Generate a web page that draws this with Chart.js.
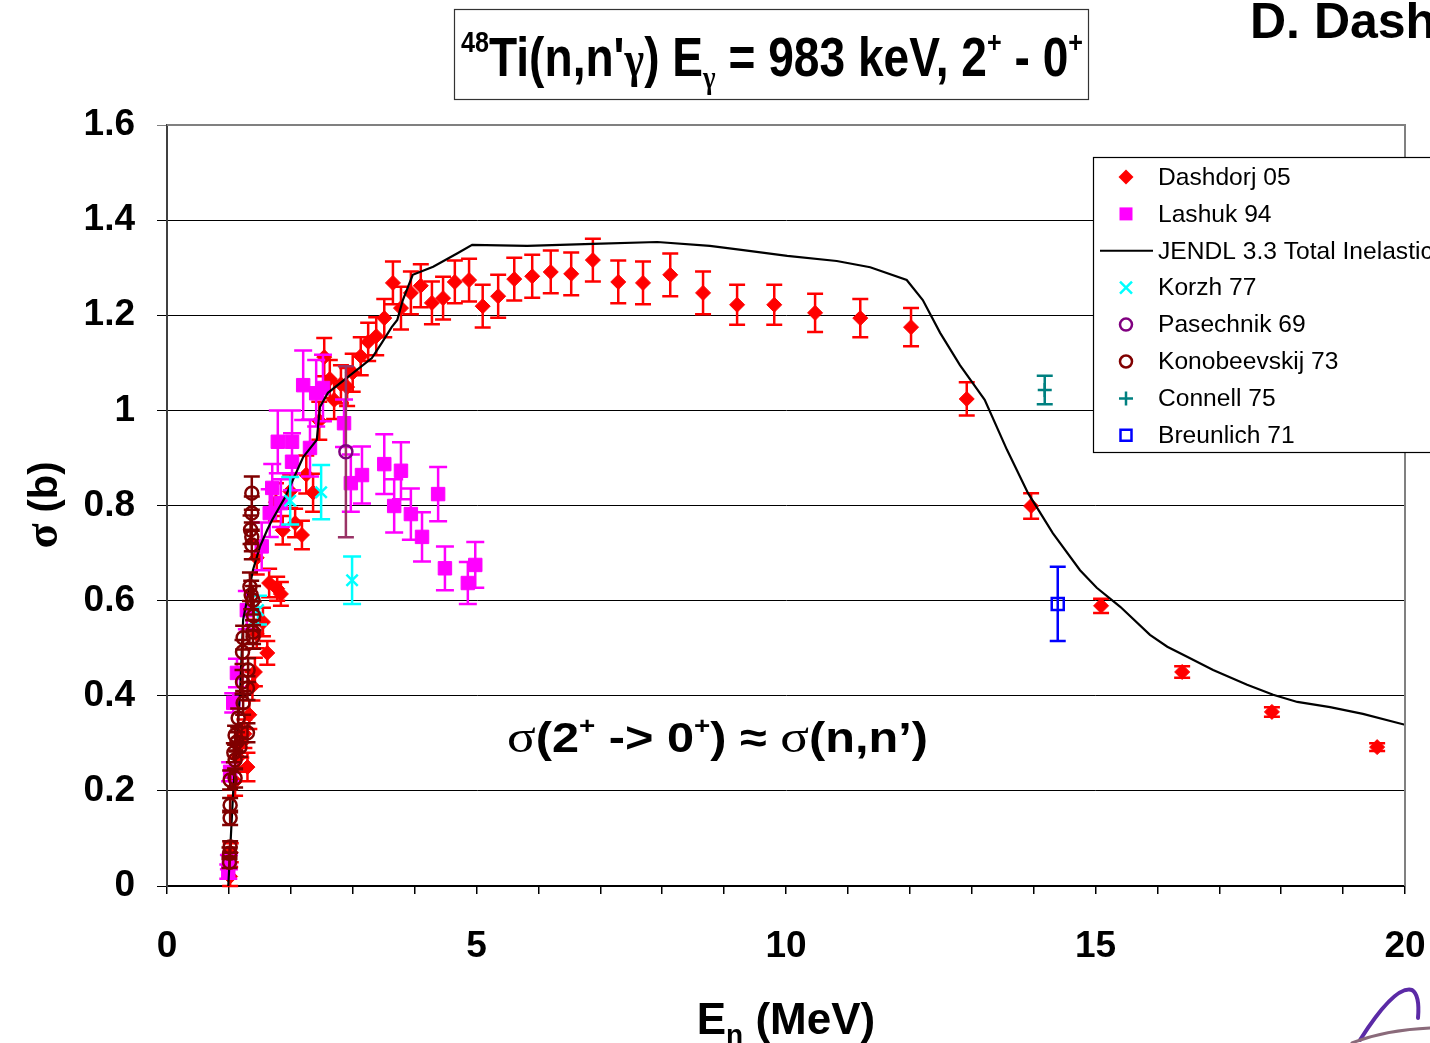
<!DOCTYPE html>
<html><head><meta charset="utf-8">
<script src="https://cdn.jsdelivr.net/npm/chart.js@4/dist/chart.umd.min.js"></script>
<style>
html,body{margin:0;padding:0;background:#fff;overflow:hidden;width:1430px;height:1043px}
#wrap{position:relative;width:1560px;height:1043px}
</style></head><body><div id="wrap"><canvas id="c" width="1560" height="1043"></canvas></div>
<script>
// ---------- DATA ----------
const xTickValues = [0, 5, 10, 15, 20];
const xTickLabels = ['0', '5', '10', '15', '20'];
const yTickLabels = ['0', '0.2', '0.4', '0.6', '0.8', '1', '1.2', '1.4', '1.6'];

const dashE = [1.02,1.03,1.10,1.15,1.20,1.25,1.30,1.33,1.38,1.42,1.45,1.45,1.55,1.62,1.65,1.78,1.84,1.76,1.87,1.99,2.07,2.18,2.25,2.36,2.46,2.54,2.63,2.70,2.81,2.91,3.00,3.13,3.25,3.38,3.51,3.65,3.78,3.94,4.10,4.28,4.46,4.65,4.88,5.10,5.35,5.61,5.90,6.20,6.53,6.88,7.29,7.69,8.13,8.66,9.21,9.81,10.47,11.20,12.02,12.92,13.96,15.09,16.40,17.85,19.55];
const dashS = [0.02,0.07,0.22,0.27,0.30,0.32,0.25,0.36,0.42,0.45,0.53,0.69,0.555,0.49,0.637,0.625,0.614,0.807,0.748,0.830,0.763,0.738,0.865,0.827,0.978,1.112,1.066,1.022,1.055,1.049,1.079,1.114,1.144,1.156,1.194,1.268,1.215,1.247,1.262,1.226,1.236,1.270,1.274,1.219,1.240,1.276,1.282,1.291,1.287,1.316,1.270,1.268,1.285,1.247,1.222,1.222,1.205,1.194,1.175,1.024,0.799,0.589,0.450,0.366,0.292];
const dashErr = [0.02,0.02,0.03,0.03,0.03,0.03,0.03,0.03,0.03,0.03,0.03,0.035,0.03,0.025,0.03,0.025,0.025,0.04,0.03,0.035,0.03,0.03,0.04,0.04,0.04,0.04,0.04,0.04,0.04,0.04,0.04,0.04,0.04,0.04,0.04,0.045,0.045,0.045,0.045,0.045,0.045,0.045,0.045,0.045,0.045,0.045,0.045,0.045,0.045,0.045,0.045,0.045,0.045,0.045,0.042,0.042,0.04,0.04,0.04,0.035,0.027,0.015,0.012,0.01,0.008];

const lashE = [0.99,1.00,1.02,1.07,1.13,1.29,1.53,1.66,1.70,1.79,1.84,2.02,2.02,2.20,2.31,2.41,2.52,2.86,2.97,3.15,3.51,3.67,3.78,3.94,4.12,4.38,4.49,4.86,4.98];
const lashS = [0.03,0.05,0.24,0.385,0.448,0.58,0.714,0.784,0.837,0.934,0.805,0.892,0.934,1.053,0.921,1.036,1.047,0.973,0.847,0.864,0.887,0.799,0.873,0.782,0.734,0.824,0.668,0.637,0.675];
const lashErr = [0.015,0.015,0.02,0.02,0.03,0.04,0.05,0.05,0.05,0.066,0.05,0.06,0.066,0.073,0.06,0.07,0.07,0.05,0.06,0.06,0.063,0.056,0.06,0.054,0.052,0.057,0.046,0.044,0.048];

const jendlE = [0.99,1.07,1.18,1.23,1.39,1.50,1.62,1.70,1.91,2.20,2.42,2.47,2.60,2.92,3.31,3.47,3.63,3.72,3.81,3.97,4.30,4.70,4.93,5.82,6.88,7.92,8.77,9.31,10.02,10.82,11.36,11.95,12.21,12.49,12.81,13.21,13.57,13.91,14.31,14.75,15.02,15.40,15.88,16.16,16.48,16.90,17.45,17.87,18.26,18.79,19.32,20.0];
const jendlS = [0,0.2,0.406,0.56,0.665,0.713,0.749,0.77,0.818,0.902,0.938,1.007,1.037,1.07,1.11,1.142,1.175,1.19,1.232,1.285,1.302,1.331,1.348,1.346,1.35,1.354,1.346,1.337,1.325,1.314,1.301,1.274,1.232,1.163,1.095,1.022,0.917,0.826,0.742,0.664,0.627,0.587,0.528,0.503,0.482,0.454,0.423,0.402,0.387,0.376,0.362,0.339];

const korzhE = [1.47, 1.99, 2.49, 2.99];
const korzhS = [0.58, 0.81, 0.828, 0.643];
const korzhErr = [0.03, 0.05, 0.057, 0.05];

const pasE = [2.89];
const pasS = [0.913];
const pasErr = [0.18];

const konoE = [1.01,1.01,1.02,1.02,1.02,1.02,1.10,1.10,1.08,1.18,1.13,1.10,1.30,1.15,1.23,1.30,1.22,1.31,1.22,1.23,1.39,1.39,1.40,1.39,1.34,1.36,1.37,1.37,1.35,1.37,1.37];
const konoS = [0.05,0.069,0.082,0.143,0.17,0.223,0.227,0.265,0.28,0.292,0.303,0.317,0.322,0.353,0.385,0.416,0.429,0.454,0.492,0.522,0.534,0.524,0.568,0.601,0.629,0.612,0.717,0.734,0.749,0.784,0.826];
const konoErr = [0.012,0.012,0.012,0.015,0.015,0.02,0.02,0.02,0.02,0.02,0.02,0.02,0.02,0.02,0.025,0.025,0.025,0.025,0.025,0.025,0.025,0.025,0.03,0.03,0.03,0.03,0.03,0.03,0.03,0.035,0.035];

const connE = [14.18];
const connS = [1.043];
const connErr = [0.03];

const breuE = [14.39];
const breuS = [0.593];
const breuErr = [0.078];

// ---------- helpers ----------
const SANS = '"Liberation Sans", Arial, sans-serif';
const SERIF = '"Liberation Serif", "Times New Roman", serif';
const pts = (E, S) => E.map((e, i) => ({x: e, y: S[i]}));

const seriesDefs = [
  {label:'Dashdorj 05', E:dashE, S:dashS, err:dashErr, style:'rectRot', r:7.5, color:'#ff0000', fill:'#ff0000', bw:1, cap:8, ew:2.5},
  {label:'Lashuk 94', E:lashE, S:lashS, err:lashErr, style:'rect', r:9.5, color:'#ff00ff', fill:'#ff00ff', bw:1, cap:9, ew:2.5},
  {label:'JENDL 3.3 Total Inelastic', E:jendlE, S:jendlS, line:true},
  {label:'Korzh 77', E:korzhE, S:korzhS, err:korzhErr, style:'crossRot', r:8, color:'#00ffff', fill:'#00ffff', bw:2.5, cap:9, ew:2.5},
  {label:'Pasechnik 69', E:pasE, S:pasS, err:pasErr, style:'circle', r:6.5, color:'#800080', fill:'rgba(0,0,0,0)', bw:2.5, cap:8, ew:2.5, ecolor:'#993366'},
  {label:'Konobeevskij 73', E:konoE, S:konoS, err:konoErr, style:'circle', r:6.5, color:'#800000', fill:'rgba(0,0,0,0)', bw:2.5, cap:8, ew:2.5},
  {label:'Connell 75', E:connE, S:connS, err:connErr, style:'cross', r:7, color:'#008080', fill:'#008080', bw:2.5, cap:8, ew:2.5},
  {label:'Breunlich 71', E:breuE, S:breuS, err:breuErr, style:'rect', r:8.5, color:'#0000ff', fill:'rgba(0,0,0,0)', bw:2.5, cap:8, ew:2.5}
];

const datasets = seriesDefs.map((d, i) => {
  if (d.line) return {label:d.label, data:pts(d.E, d.S), showLine:true, borderColor:'#000', borderWidth:2.2, pointRadius:0, fill:false, tension:0, order: 100 - i};
  return {label:d.label, data:pts(d.E, d.S), pointStyle:d.style, pointRadius:d.r, pointHoverRadius:d.r,
    borderColor:d.color, backgroundColor:d.fill, pointBorderWidth:d.bw, borderWidth:d.bw, showLine:false, order: 100 - i};
});

function drawRich(ctx, parts, x, y, opts) {
  opts = opts || {};
  let total = 0;
  parts.forEach(p => { ctx.font = p.f; p.w = ctx.measureText(p.t).width; total += p.w; });
  const sx = opts.width ? opts.width / total : 1;
  ctx.save();
  ctx.translate(x, y);
  if (opts.rotate) ctx.rotate(opts.rotate);
  let start = 0;
  if (opts.align === 'center') start = -total * sx / 2;
  ctx.translate(start, 0);
  ctx.scale(sx, 1);
  ctx.textBaseline = 'alphabetic';
  ctx.textAlign = 'left';
  ctx.fillStyle = opts.color || '#000';
  let cx = 0;
  parts.forEach(p => { ctx.font = p.f; ctx.fillText(p.t, cx, p.dy || 0); cx += p.w; });
  ctx.restore();
}

function marker(ctx, d, x, y) {
  ctx.save();
  ctx.lineWidth = 2.5;
  ctx.strokeStyle = d.color; ctx.fillStyle = d.color;
  const s = 6.5;
  ctx.beginPath();
  if (d.style === 'rectRot') { ctx.moveTo(x - 7.5, y); ctx.lineTo(x, y - 7.5); ctx.lineTo(x + 7.5, y); ctx.lineTo(x, y + 7.5); ctx.closePath(); ctx.fill(); }
  else if (d.style === 'rect' && d.fill !== 'rgba(0,0,0,0)') { ctx.rect(x - s, y - s, 2 * s, 2 * s); ctx.fill(); }
  else if (d.style === 'rect') { ctx.rect(x - 5.5, y - 5.5, 11, 11); ctx.stroke(); }
  else if (d.style === 'crossRot') { ctx.moveTo(x - 6, y - 6); ctx.lineTo(x + 6, y + 6); ctx.moveTo(x + 6, y - 6); ctx.lineTo(x - 6, y + 6); ctx.stroke(); }
  else if (d.style === 'cross') { ctx.moveTo(x - 7, y); ctx.lineTo(x + 7, y); ctx.moveTo(x, y - 7); ctx.lineTo(x, y + 7); ctx.stroke(); }
  else if (d.style === 'circle') { ctx.arc(x, y, 6, 0, Math.PI * 2); ctx.stroke(); }
  ctx.restore();
}

const errorBars = {
  id: 'errorBars',
  beforeDatasetDraw(chart, args) {
    const d = seriesDefs[args.index];
    if (!d || !d.err) return;
    const ctx = chart.ctx, ys = chart.scales.y;
    const meta = args.meta;
    ctx.save();
    ctx.strokeStyle = d.ecolor || d.color;
    ctx.lineWidth = d.ew;
    ctx.beginPath();
    d.S.forEach((s, i) => {
      const el = meta.data[i];
      if (!el) return;
      const x = el.x;
      const y1 = ys.getPixelForValue(s + d.err[i]);
      const y2 = ys.getPixelForValue(s - d.err[i]);
      ctx.moveTo(x, y1); ctx.lineTo(x, y2);
      ctx.moveTo(x - d.cap, y1); ctx.lineTo(x + d.cap, y1);
      ctx.moveTo(x - d.cap, y2); ctx.lineTo(x + d.cap, y2);
    });
    ctx.stroke();
    ctx.restore();
  }
};

const decor = {
  id: 'decor',
  afterDraw(chart) {
    const ctx = chart.ctx, a = chart.chartArea;
    // plot frame top/right
    ctx.save();
    ctx.strokeStyle = '#808080'; ctx.lineWidth = 2;
    ctx.beginPath();
    ctx.moveTo(a.left, a.top); ctx.lineTo(a.right, a.top); ctx.lineTo(a.right, a.bottom);
    ctx.stroke();
    ctx.restore();

    // legend
    const lx = 1093, ly = 157, lw = 500, lh = 295;
    ctx.save();
    ctx.fillStyle = '#fff'; ctx.fillRect(lx, ly, lw, lh);
    ctx.strokeStyle = '#000'; ctx.lineWidth = 1.2; ctx.strokeRect(lx + 0.5, ly + 0.5, lw, lh);
    ctx.font = '24.6px ' + SANS; ctx.fillStyle = '#000'; ctx.textBaseline = 'middle';
    seriesDefs.forEach((d, i) => {
      const yy = 177 + i * 36.9;
      if (d.line) {
        ctx.save(); ctx.strokeStyle = '#000'; ctx.lineWidth = 2; ctx.beginPath(); ctx.moveTo(1100, yy); ctx.lineTo(1153, yy); ctx.stroke(); ctx.restore();
      } else marker(ctx, d, 1126, yy);
      ctx.fillText(d.label, 1158, yy + 1);
    });
    ctx.restore();

    // title box
    ctx.save();
    ctx.strokeStyle = '#333'; ctx.lineWidth = 1.2;
    ctx.strokeRect(454.5, 9.5, 634, 90);
    ctx.restore();
    const B = s => 'bold ' + s + 'px ' + SANS;
    const G = s => 'bold ' + s + 'px ' + SERIF;
    drawRich(ctx, [
      {t:'48', f:B(30), dy:-24},
      {t:"Ti(n,n'", f:B(55)},
      {t:'\u03B3', f:G(50)},
      {t:') E', f:B(55)},
      {t:'\u03B3', f:G(32), dy:12},
      {t:' = 983 keV, 2', f:B(55)},
      {t:'+', f:B(30), dy:-24},
      {t:' - 0', f:B(55)},
      {t:'+', f:B(30), dy:-24}
    ], 461, 76, {width: 622});

    // top-right author
    drawRich(ctx, [{t:'D. Dashdorj', f:B(50)}], 1250, 38);

    // annotation
    drawRich(ctx, [
      {t:'\u03C3', f:'46px ' + SERIF},
      {t:'(2', f:B(42)},
      {t:'+', f:B(24), dy:-18},
      {t:' -> 0', f:B(42)},
      {t:'+', f:B(24), dy:-18},
      {t:') \u2248 ', f:B(42)},
      {t:'\u03C3', f:'46px ' + SERIF},
      {t:'(n,n\u2019)', f:B(42)}
    ], 507, 752, {width: 421});

    // axis titles
    drawRich(ctx, [{t:'\u03C3', f:'bold 46px ' + SERIF}, {t:' (b)', f:B(40)}], 57, 505, {rotate: -Math.PI / 2, align: 'center'});
    drawRich(ctx, [{t:'E', f:B(44)}, {t:'n', f:B(28), dy:10}, {t:' (MeV)', f:B(44)}], 786, 1034, {align: 'center'});

    // small logo swoosh bottom-right
    ctx.save();
    ctx.lineCap = 'round';
    ctx.strokeStyle = '#5b2aa6'; ctx.lineWidth = 4;
    ctx.beginPath(); ctx.moveTo(1360, 1040); ctx.quadraticCurveTo(1395, 985, 1412, 990); ctx.quadraticCurveTo(1420, 995, 1418, 1018); ctx.stroke();
    ctx.strokeStyle = '#8a6a7a'; ctx.lineWidth = 3;
    ctx.beginPath(); ctx.moveTo(1352, 1043); ctx.quadraticCurveTo(1385, 1030, 1430, 1028); ctx.stroke();
    ctx.restore();
  }
};

const FONT_T = {family: SANS, size: 37, weight: 'bold'};

new Chart(document.getElementById('c'), {
  type: 'scatter',
  data: {datasets},
  options: {
    responsive: false,
    animation: false,
    events: [],
    layout: {padding: {top: 125, right: 155, left: 0, bottom: 0}},
    plugins: {legend: {display: false}, tooltip: {enabled: false}, title: {display: false}},
    scales: {
      x: {
        type: 'linear', min: 0, max: 20,
        afterFit: s => { s.height = 157; },
        ticks: {
          stepSize: 1, autoSkip: false, maxRotation: 0, padding: 31, color: '#000', font: FONT_T,
          callback: v => { const k = xTickValues.indexOf(Math.round(v)); return (k >= 0 && Math.abs(v - Math.round(v)) < 1e-6) ? xTickLabels[k] : ''; }
        },
        grid: {drawOnChartArea: false, drawTicks: true, tickLength: 8, color: '#000', lineWidth: 1.5},
        border: {color: '#000', width: 2}
      },
      y: {
        min: 0, max: 1.6,
        afterFit: s => { s.width = 167; },
        ticks: {stepSize: 0.2, padding: 22, color: '#000', font: FONT_T, callback: (v, i) => yTickLabels[i]},
        grid: {color: c => (c.tick && c.tick.value > 1.59) ? '#808080' : '#000', lineWidth: 1, tickLength: 10, drawTicks: true},
        border: {color: '#404040', width: 2}
      }
    }
  },
  plugins: [errorBars, decor]
});
</script></body></html>
